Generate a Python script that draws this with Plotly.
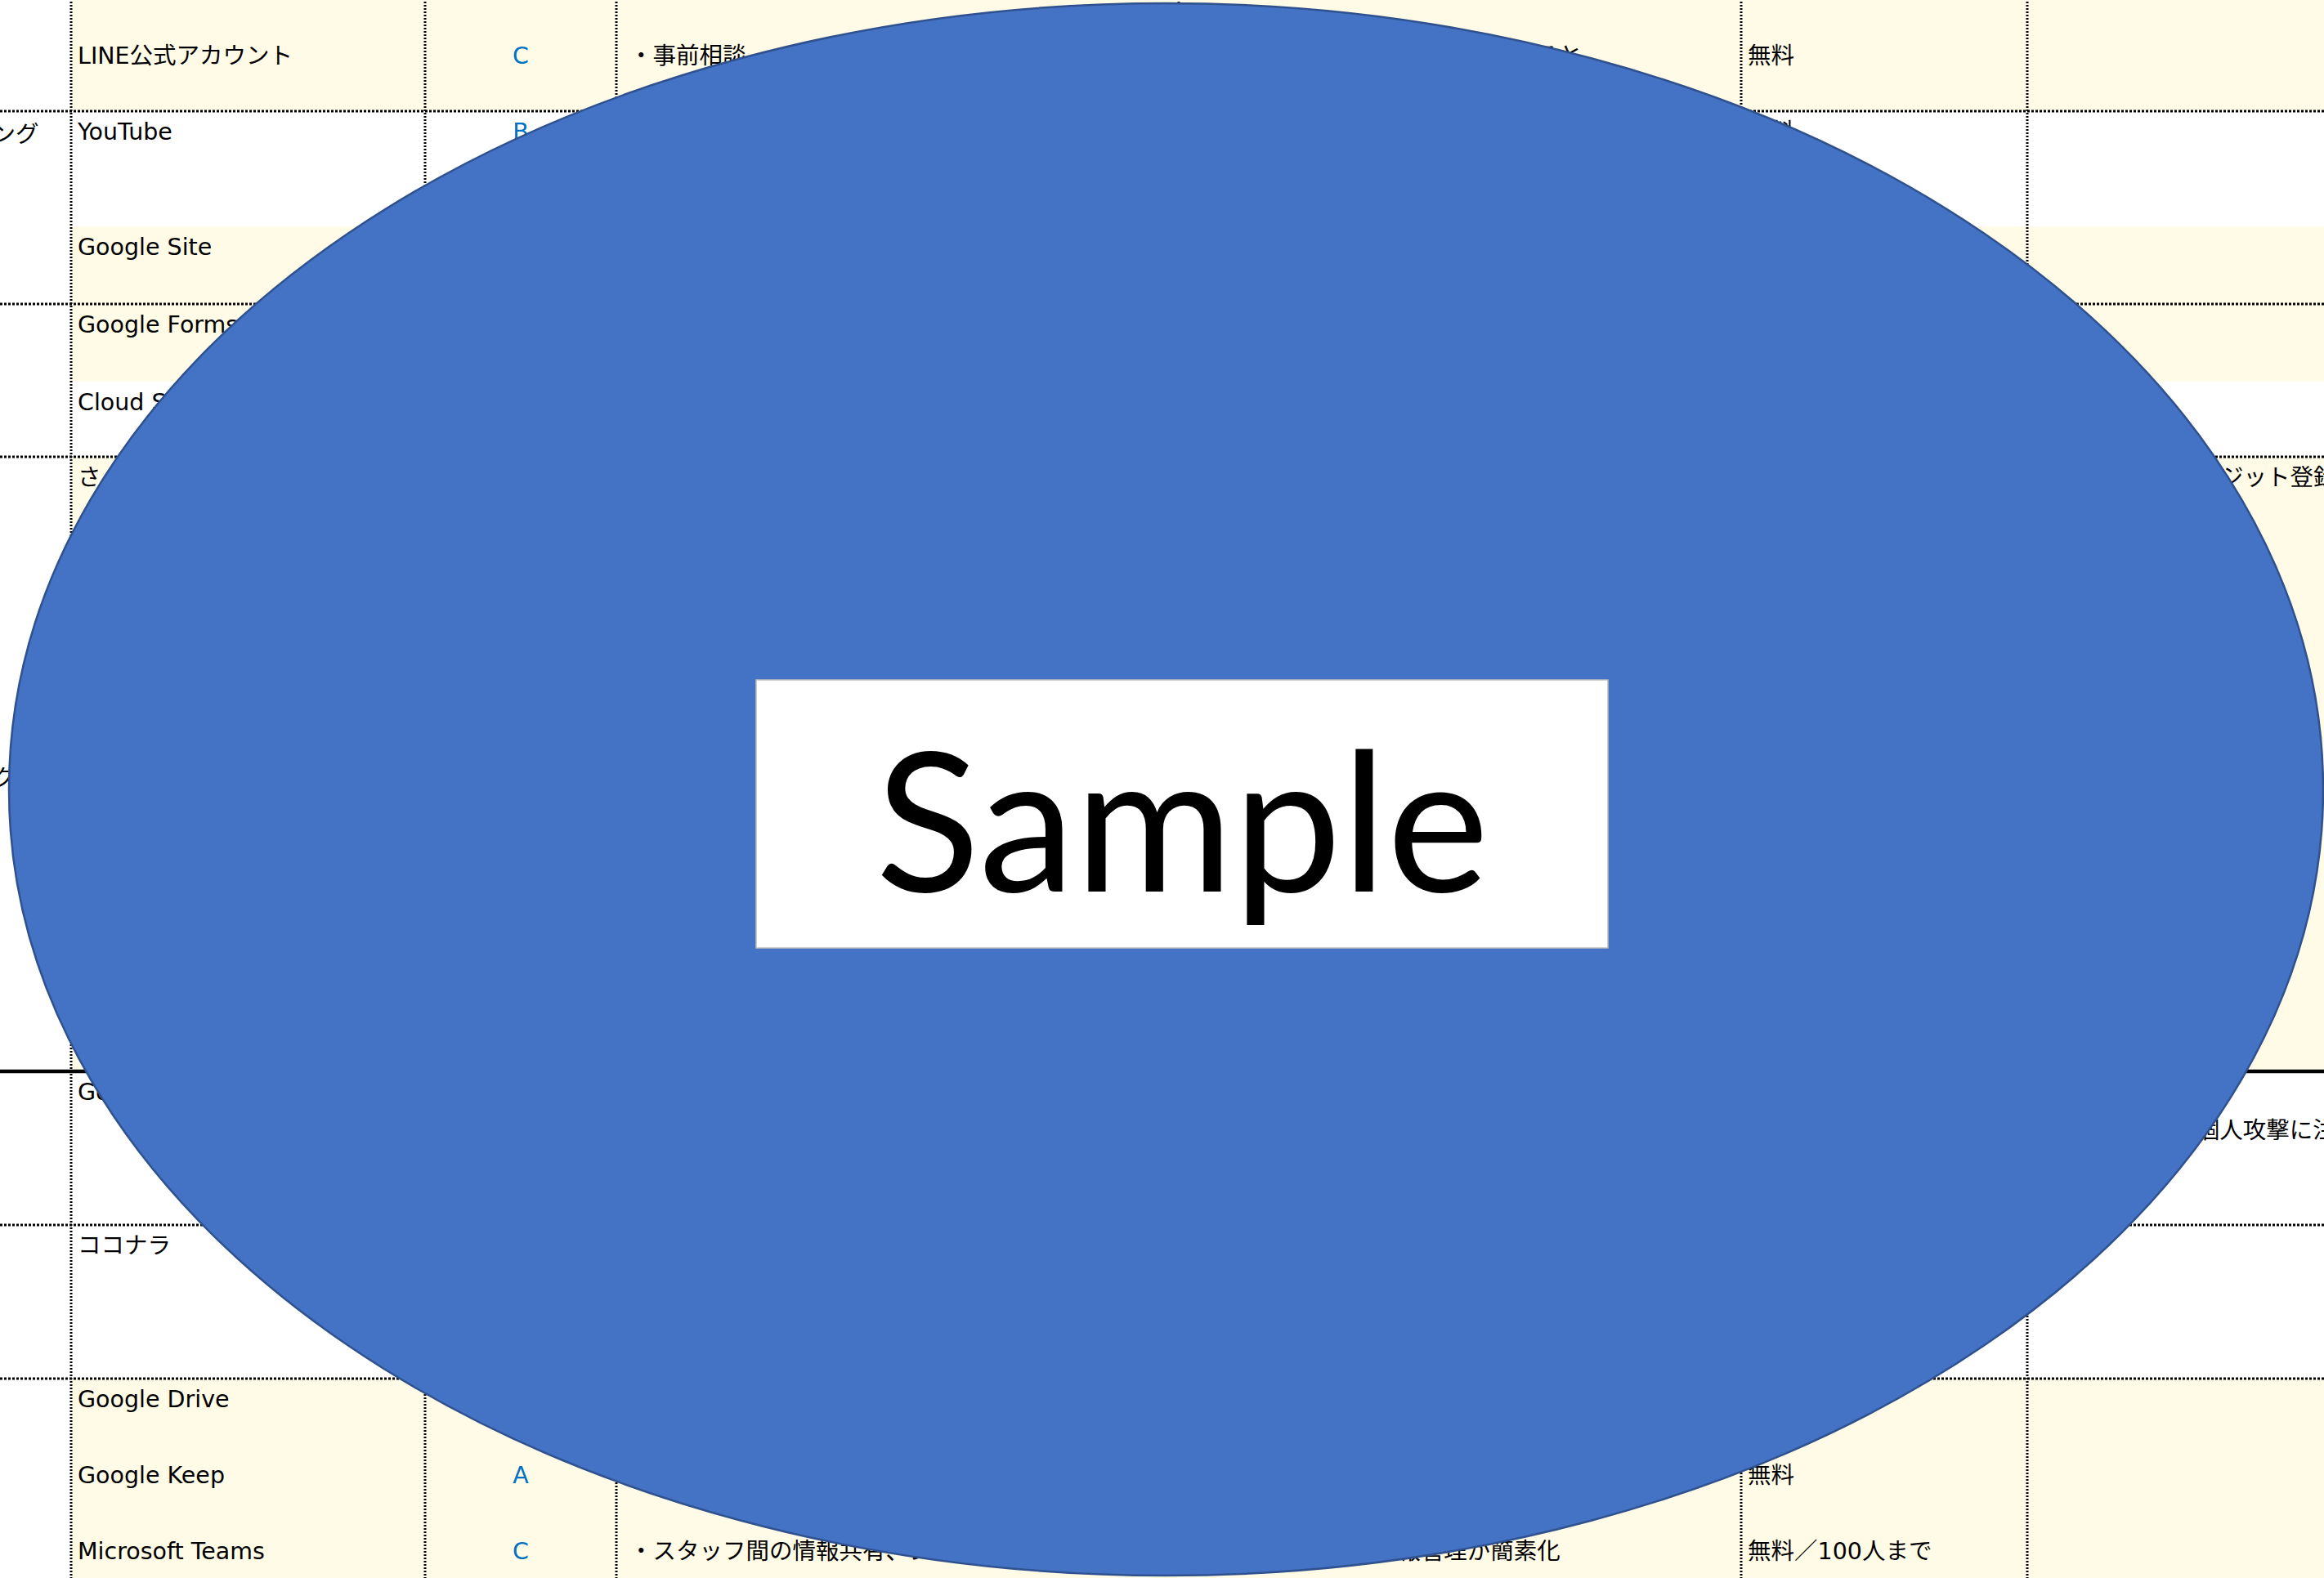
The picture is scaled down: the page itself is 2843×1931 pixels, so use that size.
import plotly.graph_objects as go

# ---------------- data (cell contents) ----------------
group_labels = ["マーケティング", "ネットワーク"]

row_names = ["", "LINE公式アカウント", "YouTube", "Google Site", "Google Forms", "Cloud Storage",
             "さくらのレンタルサーバ", "Googleビジネスプロフィール", "ココナラ",
             "Google Drive", "Google Keep", "Microsoft Teams"]

grades = ["", "C", "B", "", "", "", "", "", "", "", "A", "C"]

descriptions = ["",
                "・事前相談　・予約受付　・リマインド配信で、利用者との連絡や共有がスムーズになると",
                "", "", "", "", "", "", "", "", "",
                "・スタッフ間の情報共有、シフト調整、ファイル共有などがまとまり、情報管理が簡素化"]

prices = ["", "無料", "無料", "", "", "", "", "", "", "", "無料", "無料／100人まで"]

notes = [[], [], [], [], [], [],
         ["・有料利用はクレジット登録が必要"],
         ["・匿名性が高い", "・口コミによる個人攻撃に注意"],
         [], [], [], []]

overlay_text = "Sample"

# ---------------- layout constants ----------------
W, H = 2843, 1931
col_edges = [-160, 87, 520, 754, 2130, 2480, 2843]
row_tops = [-50, 43, 136, 277, 372, 467, 559, 1311, 1499, 1687, 1780, 1873]
row_bottoms = row_tops[1:] + [1966]
row_banded = [True, True, False, True, True, False, True, False, False, True, True, True]
group_lines = [136, 372, 559, 1311, 1499, 1687]
group_line_solid = [False, False, False, True, False, False]
label_y = [167, 955]
TEXT_OFF = 28
LINE_GAP = 47
PAD = 8
FONT = "DejaVu Sans, Noto Sans CJK JP"
FS = 28.5
BAND = "#FFFBE6"
GRADE_BLUE = "#0070C0"

fig = go.Figure()
shapes = []

# banded cell backgrounds
for top, bot, band in zip(row_tops, row_bottoms, row_banded):
    if band:
        shapes.append(dict(type="rect", xref="x", yref="y", x0=col_edges[1], x1=col_edges[-1],
                           y0=top, y1=bot, fillcolor=BAND, line_width=0, layer="below"))

# vertical dotted borders
for xe in col_edges[1:-1]:
    shapes.append(dict(type="line", xref="x", yref="y", x0=xe, x1=xe, y0=row_tops[0], y1=row_bottoms[-1],
                       line=dict(color="black", width=3, dash="2px,2px"), layer="below"))
# sub-column border in the first row
shapes.append(dict(type="line", xref="x", yref="y", x0=1442, x1=1442, y0=row_tops[0], y1=row_tops[1],
                   line=dict(color="black", width=3, dash="2px,2px"), layer="below"))

# horizontal group borders
for yv, solid in zip(group_lines, group_line_solid):
    if solid:
        ln = dict(color="black", width=4.5)
    else:
        ln = dict(color="black", width=3, dash="3px,2px")
    shapes.append(dict(type="line", xref="x", yref="y", x0=0, x1=col_edges[-1], y0=yv, y1=yv,
                       line=ln, layer="below"))

n = len(row_names)
ys = [t + TEXT_OFF for t in row_tops]

def text_trace(xs, yv, txt, pos, color="black"):
    return go.Scatter(x=xs, y=yv, text=txt, mode="text", textposition=pos,
                      textfont=dict(family=FONT, size=FS, color=color, weight="normal"),
                      hoverinfo="skip", showlegend=False, cliponaxis=False)

# group labels (left column, starting left of the visible area -> anchor at their right end)
lab_x = [col_edges[0] + PAD + len(t) * FS for t in group_labels]
fig.add_trace(text_trace(lab_x, label_y, group_labels, "middle left"))
# names
fig.add_trace(text_trace([col_edges[1] + PAD] * n, ys, row_names, "middle right"))
# grades
fig.add_trace(text_trace([(col_edges[2] + col_edges[3]) / 2] * n, ys, grades, "middle center", GRADE_BLUE))
# descriptions
fig.add_trace(text_trace([col_edges[3] + 2 * PAD] * n, ys, descriptions, "middle right"))
# prices
fig.add_trace(text_trace([col_edges[4] + PAD] * n, ys, prices, "middle right"))
# notes
nx, ny, nt = [], [], []
for i, lines in enumerate(notes):
    for j, ln in enumerate(lines):
        nx.append(col_edges[5] + PAD)
        ny.append(ys[i] + j * LINE_GAP)
        nt.append(ln)
fig.add_trace(text_trace(nx, ny, nt, "middle right"))

# overlay: ellipse + white box
shapes.append(dict(type="circle", xref="x", yref="y", x0=11, x1=2842, y0=4, y1=1928,
                   fillcolor="#4472C4", line=dict(color="#2F528F", width=2.5), layer="above"))
shapes.append(dict(type="rect", xref="x", yref="y", x0=925, x1=1967, y0=832, y1=1160,
                   fillcolor="white", line=dict(color="#BFBFBF", width=1.5), layer="above"))

fig.update_layout(
    width=W, height=H, autosize=False,
    margin=dict(l=0, r=0, t=0, b=0, pad=0),
    paper_bgcolor="white", plot_bgcolor="white",
    xaxis=dict(range=[0, W], visible=False, fixedrange=True),
    yaxis=dict(range=[H, 0], visible=False, fixedrange=True),
    shapes=shapes,
    annotations=[dict(x=1446, y=999, xref="x", yref="y", text=overlay_text, showarrow=False,
                      xanchor="center", yanchor="middle",
                      font=dict(family="Lato", size=236, color="black"))],
    showlegend=False,
)

fig.write_html("out.html", config={"displayModeBar": False},
               post_script="document.body.style.margin='0';document.body.style.overflow='hidden';")
